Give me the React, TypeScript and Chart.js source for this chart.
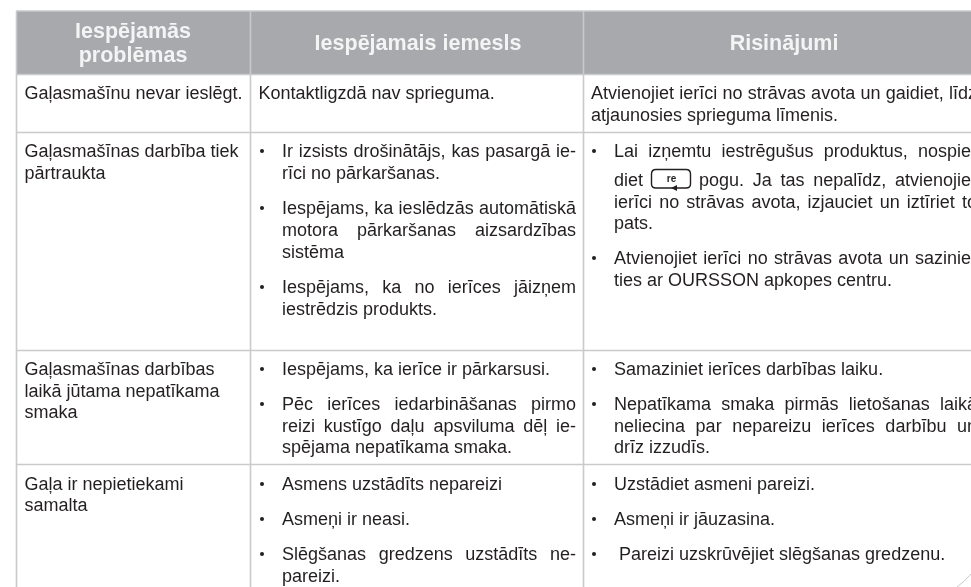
import React, { useEffect, useRef } from "react";
import { Chart, registerables } from "chart.js";

Chart.register(...registerables);

const COLUMN_RULES = [16.5, 250.5, 583.5];
const ROW_RULES = [11, 74.5, 132.5, 350.5, 464.5];
const HEADER_TEXT = [
  { text: "Iespējamās", x: 133, y: 37.5 },
  { text: "problēmas", x: 133, y: 62 },
  { text: "Iespējamais iemesls", x: 418, y: 50 },
  { text: "Risinājumi", x: 784, y: 50 },
];
const PLAIN_LINES: [string, number, number][] = [
  ["Gaļasmašīnu nevar ieslēgt.", 24.5, 99],
  ["Kontaktligzdā nav sprieguma.", 258.5, 99],
  ["atjaunosies sprieguma līmenis.", 591, 121],
  ["Gaļasmašīnas darbība tiek", 24.5, 157],
  ["pārtraukta", 24.5, 179],
  ["rīci no pārkaršanas.", 282, 179],
  ["sistēma", 282, 258],
  ["iestrēdzis produkts.", 282, 315],
  ["pats.", 614, 229],
  ["ties ar OURSSON apkopes centru.", 614, 286],
  ["Gaļasmašīnas darbības", 24.5, 375],
  ["laikā jūtama nepatīkama", 24.5, 397],
  ["smaka", 24.5, 418],
  ["Iespējams, ka ierīce ir pārkarsusi.", 282, 375],
  ["spējama nepatīkama smaka.", 282, 453],
  ["Samaziniet ierīces darbības laiku.", 614, 375],
  ["drīz izzudīs.", 614, 453],
  ["Gaļa ir nepietiekami", 24.5, 490],
  ["samalta", 24.5, 511],
  ["Asmens uzstādīts nepareizi", 282, 490],
  ["Asmeņi ir neasi.", 282, 525],
  ["pareizi.", 282, 582],
  ["Uzstādiet asmeni pareizi.", 614, 490],
  ["Asmeņi ir jāuzasina.", 614, 525],
  ["Pareizi uzskrūvējiet slēgšanas gredzenu.", 619, 560],
];
const JUSTIFIED_LINES: [string, number, number, number][] = [
  ["Ir izsists drošinātājs, kas pasargā ie-", 282, 576, 157],
  ["Iespējams, ka ieslēdzās automātiskā", 282, 576, 214],
  ["motora pārkaršanas aizsardzības", 282, 576, 236],
  ["Iespējams, ka no ierīces jāizņem", 282, 576, 293],
  ["Pēc ierīces iedarbināšanas pirmo", 282, 576, 410],
  ["reizi kustīgo daļu apsviluma dēļ ie-", 282, 576, 432],
  ["Slēgšanas gredzens uzstādīts ne-", 282, 576, 560],
  ["Atvienojiet ierīci no strāvas avota un gaidiet, līdz", 591, 977, 99],
  ["Lai izņemtu iestrēgušus produktus, nospie-", 614, 977, 157],
  ["pogu. Ja tas nepalīdz, atvienojie-", 699, 977, 186],
  ["ierīci no strāvas avota, izjauciet un iztīriet to", 614, 977, 207.5],
  ["Atvienojiet ierīci no strāvas avota un sazinie-", 614, 977, 264],
  ["Nepatīkama smaka pirmās lietošanas laikā", 614, 977, 410],
  ["neliecina par nepareizu ierīces darbību un", 614, 977, 432],
];
const BULLETS: [number, number][] = [
  [262, 157], [262, 214], [262, 293], [262, 375], [262, 410], [262, 490], [262, 525], [262, 560],
  [594, 157], [594, 264], [594, 375], [594, 410], [594, 490], [594, 525], [594, 560],
];
const BUTTON_WORD = { text: "diet", x: 614, y: 186 };
const BUTTON_LABEL = { text: "re", x: 671.5, y: 181.5 };
const BODY_FONT = '18px "Liberation Sans"';
const HEADER_FONT = 'bold 21.5px "Liberation Sans"';

export default function App() {
  const ref = useRef<HTMLCanvasElement | null>(null);
  useEffect(() => {
    document.body.style.margin = "0";
    const rule = "#c9cacc";
    const verticals = COLUMN_RULES.map((x) => ({
      data: [{ x, y: 11 }, { x, y: 587 }],
      borderColor: rule, borderWidth: 1.6, pointRadius: 0,
    }));
    const horizontals = ROW_RULES.map((y) => ({
      data: [{ x: 16, y }, { x: 971, y }],
      borderColor: rule, borderWidth: 1.6, pointRadius: 0,
    }));
    const tablePlugin = {
      id: "table",
      beforeDatasetsDraw(chart: any) {
        const { ctx, scales } = chart;
        const X = (v: number) => scales.x.getPixelForValue(v);
        const Y = (v: number) => scales.y.getPixelForValue(v);
        ctx.save();
        ctx.fillStyle = "#a7a9ac";
        ctx.fillRect(X(16), Y(11), X(971) - X(16), Y(74) - Y(11));
        ctx.restore();
      },
      afterDatasetsDraw(chart: any) {
        const { ctx, scales } = chart;
        const X = (v: number) => scales.x.getPixelForValue(v);
        const Y = (v: number) => scales.y.getPixelForValue(v);
        ctx.save();
        ctx.textBaseline = "alphabetic";
        ctx.font = HEADER_FONT;
        ctx.textAlign = "center";
        ctx.fillStyle = "#f4f4f5";
        HEADER_TEXT.forEach((h) => ctx.fillText(h.text, X(h.x), Y(h.y)));
        ctx.textAlign = "left";
        ctx.font = BODY_FONT;
        ctx.fillStyle = "#231f20";
        PLAIN_LINES.forEach(([t, x, y]) => ctx.fillText(t, X(x), Y(y)));
        ctx.fillText(BUTTON_WORD.text, X(BUTTON_WORD.x), Y(BUTTON_WORD.y));
        JUSTIFIED_LINES.forEach(([t, x0, x1, y]) => {
          const words = t.split(" ");
          const total = words.reduce((s, w) => s + ctx.measureText(w).width, 0);
          const gap = (x1 - x0 - total) / (words.length - 1);
          let x = x0;
          words.forEach((w) => {
            ctx.fillText(w, X(x), Y(y));
            x += ctx.measureText(w).width + gap;
          });
        });
        BULLETS.forEach(([x, y]) => {
          ctx.beginPath();
          ctx.arc(X(x), Y(y - 6), 2, 0, Math.PI * 2);
          ctx.fill();
        });
        ctx.strokeStyle = "#231f20";
        ctx.lineWidth = 1.4;
        ctx.beginPath();
        ctx.moveTo(X(656), Y(169.5));
        ctx.lineTo(X(686), Y(169.5));
        ctx.quadraticCurveTo(X(690.5), Y(169.5), X(690.5), Y(174));
        ctx.lineTo(X(690.5), Y(184));
        ctx.quadraticCurveTo(X(690.5), Y(188), X(686), Y(188));
        ctx.lineTo(X(656), Y(188));
        ctx.quadraticCurveTo(X(651.5), Y(188), X(651.5), Y(184));
        ctx.lineTo(X(651.5), Y(174));
        ctx.quadraticCurveTo(X(651.5), Y(169.5), X(656), Y(169.5));
        ctx.stroke();
        ctx.beginPath();
        ctx.moveTo(X(671), Y(188));
        ctx.lineTo(X(677), Y(185));
        ctx.lineTo(X(677), Y(191));
        ctx.closePath();
        ctx.fill();
        ctx.font = 'bold 10px "Liberation Sans"';
        ctx.textAlign = "center";
        ctx.fillText(BUTTON_LABEL.text, X(BUTTON_LABEL.x), Y(BUTTON_LABEL.y));
        ctx.strokeStyle = "#c9cacc";
        ctx.lineWidth = 1;
        ctx.beginPath();
        ctx.moveTo(X(957), Y(587));
        ctx.quadraticCurveTo(X(964), Y(582), X(971), Y(574));
        ctx.stroke();
        ctx.restore();
      },
    };
    const chart = new Chart(ref.current as HTMLCanvasElement, {
      type: "line",
      data: { datasets: [...verticals, ...horizontals] as any },
      options: {
        animation: false,
        responsive: false,
        parsing: false as any,
        layout: { padding: 0 },
        plugins: { legend: { display: false }, tooltip: { enabled: false } },
        scales: {
          x: { type: "linear", min: 0, max: 971, display: false },
          y: { type: "linear", min: 0, max: 587, reverse: true, display: false },
        },
      },
      plugins: [tablePlugin],
    });
    return () => chart.destroy();
  }, []);
  return <canvas ref={ref} width={971} height={587} style={{ display: "block" }} />;
}
